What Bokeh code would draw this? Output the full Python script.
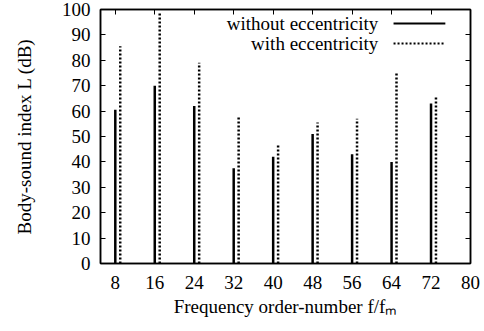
from bokeh.plotting import figure
from bokeh.models import (ColumnDataSource, FixedTicker, LinearAxis, Label, Arrow,
                          CustomJSTickFormatter)
from bokeh.transform import dodge
from bokeh.embed import file_html
from bokeh.resources import INLINE

# ---- data ----
orders = [8, 16, 24, 32, 40, 48, 56, 64, 72]
without_ecc = [60.5, 70, 62, 37.5, 42, 51, 43, 40, 63]
with_ecc = [85.5, 99, 79, 57.5, 47, 55.5, 57, 75.5, 66]
x_ticks = [8, 16, 24, 32, 40, 48, 56, 64, 72, 80]
y_ticks = [0, 10, 20, 30, 40, 50, 60, 70, 80, 90, 100]
series_names = ["without eccentricity", "with eccentricity"]

FONT = "Liberation Serif"
FS = "19px"
DOT = "2 2"

src = ColumnDataSource(dict(x=orders, a=without_ecc, b=with_ecc, zero=[0] * len(orders)))

p = figure(width=484, height=331, x_range=(5, 80), y_range=(0, 100),
           output_backend="svg", toolbar_location=None,
           x_axis_label="Frequency order-number f/fₘ",
           y_axis_label="Body-sound index L (dB)")
p.min_border_left = 100
p.min_border_right = 14
p.min_border_top = 9
p.min_border_bottom = 68
p.xgrid.visible = False
p.ygrid.visible = False
p.outline_line_color = "black"
p.outline_line_width = 1.5
p.background_fill_color = "white"
p.border_fill_color = "white"

empty = CustomJSTickFormatter(code="return ''")

def style(ax, labels=True):
    ax.axis_line_color = "black"
    ax.axis_line_width = 1.5
    ax.major_tick_in = 5
    ax.major_tick_out = 0
    ax.major_tick_line_width = 1
    ax.minor_tick_line_color = None
    ax.major_label_text_font = FONT
    ax.major_label_text_font_size = FS
    ax.major_label_text_color = "black"
    ax.axis_label_text_font = FONT
    ax.axis_label_text_font_size = FS
    ax.axis_label_text_font_style = "normal"
    ax.axis_label_text_color = "black"
    if not labels:
        ax.formatter = empty

xa = p.xaxis[0]
xa.ticker = FixedTicker(ticks=x_ticks)
style(xa)
xa.major_label_standoff = 12
xa.axis_label_standoff = 4

ya = p.yaxis[0]
ya.ticker = FixedTicker(ticks=y_ticks)
style(ya)
ya.major_label_standoff = 10
ya.axis_label_standoff = 24

top = LinearAxis(ticker=FixedTicker(ticks=x_ticks))
style(top, labels=False)
p.add_layout(top, "above")
right = LinearAxis(ticker=FixedTicker(ticks=y_ticks))
style(right, labels=False)
p.add_layout(right, "right")

p.segment(x0="x", y0="zero", x1="x", y1="a", source=src,
          line_color="black", line_width=2.5)
xd = dodge("x", 1.0, range=p.x_range)
p.segment(x0=xd, y0="zero", x1=xd, y1="b", source=src,
          line_color="black", line_width=2.5, line_dash=DOT)

# legend (gnuplot style: text then sample)
leg_y = [94.5, 86.6]
dashes = ["solid", DOT]
for name, yy, dsh in zip(series_names, leg_y, dashes):
    p.add_layout(Label(x=61.3, y=yy, text=name, text_align="right",
                       text_baseline="middle", text_font=FONT,
                       text_font_size=FS, text_color="black"))
    p.add_layout(Arrow(x_start=64.4, y_start=yy, x_end=74.9, y_end=yy,
                       end=None, line_color="black", line_width=2,
                       line_dash=dsh))

open("out.html", "w").write(file_html(p, INLINE))
